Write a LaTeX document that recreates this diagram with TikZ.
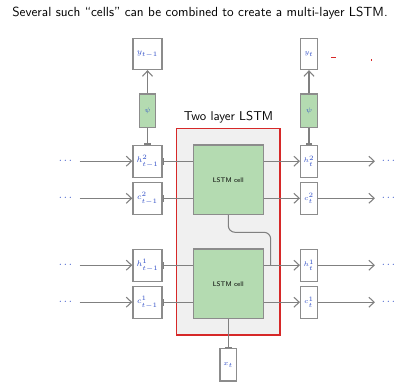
\documentclass[tikz,border=0pt]{standalone}
\usetikzlibrary{arrows.meta}
\definecolor{linegray}{RGB}{128,128,128}
\definecolor{boxgray}{RGB}{140,140,140}
\definecolor{cellgreen}{RGB}{180,219,177}
\definecolor{labelblue}{RGB}{50,80,200}
\definecolor{framered}{RGB}{214,40,40}
\definecolor{panelgray}{RGB}{240,240,240}
\begin{document}
\begin{tikzpicture}[x=0.75pt,y=-0.75pt,
  varbox/.style={draw=boxgray,line width=1pt,fill=white,minimum width=21.75pt,
    minimum height=24pt,inner sep=0pt,font=\fontsize{6}{7}\selectfont,text=labelblue},
  narrowbox/.style={varbox,minimum width=12.5pt,font=\fontsize{5.5}{6.5}\selectfont},
  actbox/.style={draw=boxgray,line width=1pt,fill=cellgreen,minimum width=12.3pt,
    minimum height=25pt,inner sep=0pt,font=\fontsize{4}{5}\selectfont,text=labelblue},
  cellbox/.style={draw=boxgray,line width=1pt,fill=cellgreen,minimum width=52.5pt,
    minimum height=52pt,inner sep=0pt,font=\sffamily\fontsize{5}{6}\selectfont},
  dotnode/.style={inner sep=0pt,text=labelblue,font=\fontsize{8}{9}\selectfont},
  flow/.style={draw=linegray,line width=0.8pt},
  arr/.style={flow,-{Straight Barb[length=4pt,width=7.5pt]}},
  barin/.style={flow,{Bar[width=5pt]}-},
]
\useasboundingbox (0,0) rectangle (400,384);

% heading
\node[font=\sffamily\fontsize{9.9}{11.5}\selectfont] (title) at (200,13)
  {Several such ``cells'' can be combined to create a multi-layer LSTM.};

% frame around the stacked cells
\node[font=\sffamily\fontsize{9.6}{11}\selectfont] (stacklabel) at (228.5,117.5) {Two layer LSTM};
\draw[framered,line width=0.9pt,fill=panelgray] (176.7,128.3) rectangle (280,335);

% the two LSTM cells
\node[cellbox] (cell2) at (228.3,179.7) {LSTM cell};
\node[cellbox] (cell1) at (228.3,283.8) {LSTM cell};

% previous time step (left column)
\node[varbox,minimum height=23.25pt] (yL) at (147.5,54) {$y_{t-1}$};
\node[actbox] (psiL) at (147.5,110.7) {$\psi$};
\node[varbox] (hL2) at (147.5,161.2) {$h^2_{t-1}$};
\node[varbox] (cL2) at (147.5,198.3) {$c^2_{t-1}$};
\node[varbox] (hL1) at (147.5,265.2) {$h^1_{t-1}$};
\node[varbox] (cL1) at (147.5,302.2) {$c^1_{t-1}$};

% current time step (right column)
\node[narrowbox,minimum height=23.25pt] (yR) at (309,54) {$y_t$};
\node[actbox] (psiR) at (309,110.7) {$\psi$};
\node[narrowbox] (hR2) at (309,161.2) {$h^2_t$};
\node[narrowbox] (cR2) at (309,198.3) {$c^2_t$};
\node[narrowbox] (hR1) at (309,265.2) {$h^1_t$};
\node[narrowbox] (cR1) at (309,302.2) {$c^1_t$};

% input
\node[narrowbox,minimum height=24.5pt] (xt) at (228.3,364.7) {$x_t$};

% continuation dots
\foreach \n/\y in {a/161.2,b/198.3,c/265.2,d/302.2}{
  \node[dotnode] (dl\n) at (65.5,\y) {$\cdots$};
  \node[dotnode] (dr\n) at (388.5,\y) {$\cdots$};
}

% outputs through the activation
\draw[arr] (psiL) -- (yL);
\draw[arr] (psiR) -- (yR);
\draw[barin] (hL2) -- (psiL);
\draw[barin] (hR2) -- (psiR);

% incoming states
\foreach \n/\b in {a/hL2,b/cL2,c/hL1,d/cL1}{
  \draw[arr,shorten <=5.5pt] (dl\n) -- (\b);
}
\draw[barin] (hL2) -- (hL2 -| cell2.west);
\draw[barin] (cL2) -- (cL2 -| cell2.west);
\draw[barin] (hL1) -- (hL1 -| cell1.west);
\draw[barin] (cL1) -- (cL1 -| cell1.west);

% outgoing states
\draw[arr] (hR2 -| cell2.east) -- (hR2);
\draw[arr] (cR2 -| cell2.east) -- (cR2);
\draw[arr] (hR1 -| cell1.east) -- (hR1);
\draw[arr] (cR1 -| cell1.east) -- (cR1);
\foreach \n/\b in {a/hR2,b/cR2,c/hR1,d/cR1}{
  \draw[arr,shorten >=5pt] (\b) -- (dr\n);
}

% lower hidden state feeds the upper cell
\coordinate (bend) at (250,232.3);
\coordinate (tap) at (270.7,265.2);
\draw[flow,rounded corners=5pt] (cell2.south) -- (cell2.south |- bend) -- (tap |- bend) -- (tap);

% input into the lower cell
\draw[barin] (xt) -- (cell1.south);

% small red marks
\fill[framered] (331,56.6) rectangle (335.5,57.6);
\fill[framered] (371,59.5) rectangle (371.8,60.6);
\end{tikzpicture}
\end{document}
